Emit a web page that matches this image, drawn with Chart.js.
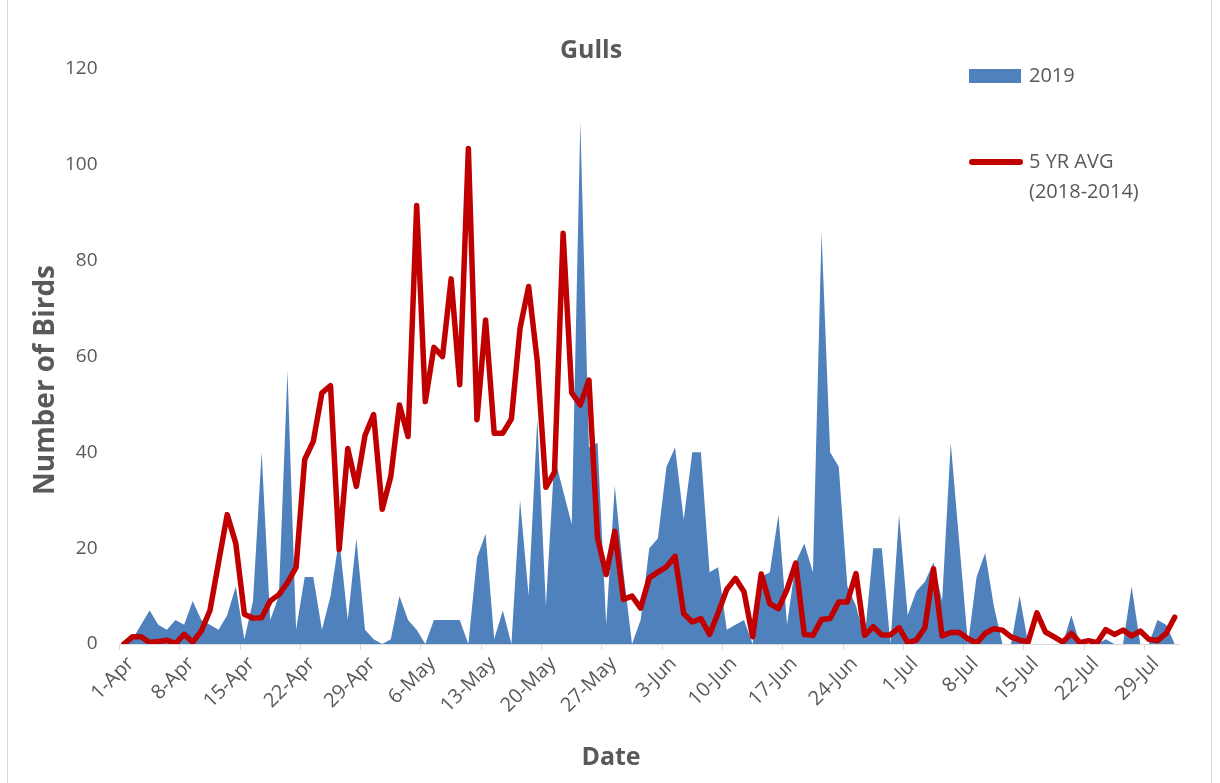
<!DOCTYPE html>
<html lang="en">
<head>
<meta charset="utf-8">
<title>Gulls</title>
<script src="https://cdn.jsdelivr.net/npm/chart.js"></script>
<style>
    body {
        margin: 0;
        background: #ffffff;
        font-family: 'Open Sans', sans-serif;
    }
    .frame {
        position: relative;
        width: 1220px;
        height: 783px;
    }
    .frame:before {
        content: '';
        position: absolute;
        left: 7px;
        top: 0;
        width: 1205px;
        height: 783px;
        border-left: 1px solid #d9d9d9;
        border-right: 1px solid #d9d9d9;
        box-sizing: border-box;
    }
    #gullsChart {
        position: absolute;
        left: 0;
        top: 0;
    }
    .legend {
        position: absolute;
        left: 969px;
        top: 60px;
        color: #595959;
        font-size: 20px;
        line-height: 30px;
    }
    .legend-item {
        position: absolute;
        left: 0;
        white-space: nowrap;
    }
    .legend-swatch {
        position: absolute;
        left: 0;
    }
    .legend-text {
        position: absolute;
        left: 60px;
    }
</style>
</head>
<body>
<div class="frame">
    <canvas id="gullsChart" width="1220" height="783"></canvas>
    <div class="legend">
        <div class="legend-item" style="top:0">
            <div class="legend-swatch" style="top:9px;width:52px;height:14px;background:#4F81BD;"></div>
            <div class="legend-text" style="top:0">2019</div>
        </div>
        <div class="legend-item" style="top:86px">
            <div class="legend-swatch" style="top:13px;width:54px;height:6px;border-radius:3px;background:#C00000;"></div>
            <div class="legend-text" style="top:0">5 YR AVG<br>(2018-2014)</div>
        </div>
    </div>
</div>

<script>
    // daily counts, 1-Apr to 1-Aug
    const startDay = new Date(2019, 3, 1);
    const dayCount = 123;

    const counts2019 = [
        0, 1, 4, 7, 4, 3, 5, 4, 9, 5, 4, 3, 6, 12, 1, 9, 40, 5, 10, 57,
        3, 14, 14, 3, 10, 22, 5, 22, 3, 1, 0, 1, 10, 5, 3, 0, 5, 5, 5, 5,
        0, 18, 23, 1, 7, 0, 30, 10, 47, 8, 39, 32, 25, 109, 41, 42, 4, 33, 15, 0,
        5, 20, 22, 37, 41, 26, 40, 40, 15, 16, 3, 4, 5, 0, 14, 15, 27, 4, 17, 21,
        15, 86, 40, 37, 12, 8, 1, 20, 20, 0, 27, 6, 11, 13, 17, 9, 42, 21, 0, 14,
        19, 8, 0, 0, 10, 0, 0, 0, 0, 0, 6, 0, 0, 0, 1, 0, 0, 12, 0, 0,
        5, 4, 0
    ];

    const avg5yr = [
        0, 1.5, 1.5, 0.3, 0.5, 0.8, 0.1, 2, 0.4, 2.7, 7, 17, 27, 21, 6.2, 5.4, 5.5, 9, 10.3, 12.8,
        16, 38.5, 42.3, 52.4, 53.9, 19.7, 40.8, 32.9, 43.5, 47.9, 28.1, 35, 49.9, 43.3, 91.5, 50.6, 61.9, 60, 76.2, 54.1,
        103.4, 46.8, 67.6, 44, 44, 47, 65.9, 74.6, 59, 32.7, 35.9, 85.7, 52.4, 49.9, 55.1, 22.1, 14.5, 23.5, 9.3, 10,
        7.5, 13.8, 15, 16.1, 18.3, 6.3, 4.6, 5.3, 2, 6.5, 11.4, 13.7, 10.9, 1.5, 14.6, 8.4, 7.4, 11.4, 16.9, 2,
        1.8, 5.1, 5.3, 8.75, 8.75, 14.7, 1.8, 3.6, 1.9, 1.9, 3.4, 0.3, 0.8, 3.4, 15.7, 1.7, 2.4, 2.4, 1.1, 0.2,
        2.2, 3.2, 2.9, 1.5, 0.8, 0.5, 6.5, 2.5, 1.5, 0.4, 2.2, 0.3, 0.7, 0.3, 3, 2, 2.9, 1.7, 2.7, 1,
        0.7, 2.2, 5.6
    ];

    const yTicks = [0, 20, 40, 60, 80, 100, 120];

    const monthNames = ['Jan', 'Feb', 'Mar', 'Apr', 'May', 'Jun', 'Jul', 'Aug', 'Sep', 'Oct', 'Nov', 'Dec'];
    const dates = [];
    for (let i = 0; i < dayCount; i++) {
        const d = new Date(startDay.getFullYear(), startDay.getMonth(), startDay.getDate() + i);
        dates.push(d.getDate() + '-' + monthNames[d.getMonth()]);
    }

    const textGrey = '#595959';
    const fontFamily = "'Open Sans', sans-serif";

    // chart title and axis titles
    const titlesPlugin = {
        id: 'titles',
        afterDraw(chart) {
            const c = chart.ctx;
            c.save();
            c.fillStyle = textGrey;
            c.textAlign = 'center';
            c.textBaseline = 'middle';
            c.font = 'bold 25px ' + fontFamily;
            c.fillText('Gulls', 591, 51);
            c.font = 'bold 25px ' + fontFamily;
            c.fillText('Date', 611, 758);
            c.font = 'bold 28px ' + fontFamily;
            c.translate(46, 380);
            c.rotate(-Math.PI / 2);
            c.fillText('Number of Birds', 0, 0);
            c.restore();
        }
    };

    const ctx = document.getElementById('gullsChart').getContext('2d');
    const chart = new Chart(ctx, {
        type: 'line',
        data: {
            labels: dates,
            datasets: [
                {
                    label: '5 YR AVG (2018-2014)',
                    data: avg5yr,
                    borderColor: '#C00000',
                    borderWidth: 5.5,
                    borderJoinStyle: 'round',
                    borderCapStyle: 'round',
                    pointRadius: 0,
                    fill: false,
                    tension: 0,
                    order: 0
                },
                {
                    label: '2019',
                    data: counts2019,
                    backgroundColor: '#4F81BD',
                    borderColor: 'rgba(0,0,0,0)',
                    borderWidth: 0,
                    pointRadius: 0,
                    fill: 'origin',
                    tension: 0,
                    order: 1
                }
            ]
        },
        options: {
            responsive: false,
            animation: false,
            layout: {
                padding: { left: 0, right: 41, top: 69, bottom: 0 }
            },
            plugins: {
                legend: { display: false },
                title: { display: false },
                tooltip: { enabled: false }
            },
            scales: {
                x: {
                    type: 'category',
                    offset: true,
                    afterFit(scale) { scale.height = 139; },
                    grid: {
                        offset: true,
                        drawOnChartArea: false,
                        drawTicks: true,
                        tickLength: 6,
                        color: (c) => (c.index % 7 === 0 ? '#d9d9d9' : 'rgba(0,0,0,0)')
                    },
                    border: { display: true, color: '#d9d9d9', width: 1 },
                    ticks: {
                        autoSkip: false,
                        minRotation: 45,
                        maxRotation: 45,
                        padding: 2,
                        labelOffset: 7,
                        color: textGrey,
                        font: { family: fontFamily, size: 20 },
                        callback: (val, i) => (i % 7 === 0 ? dates[i] : '')
                    }
                },
                y: {
                    min: 0,
                    max: 120,
                    afterFit(scale) { scale.width = 119.5; },
                    afterBuildTicks(scale) { scale.ticks = yTicks.map(v => ({ value: v })); },
                    grid: { display: false, drawTicks: false },
                    border: { display: false },
                    ticks: {
                        padding: 22,
                        color: textGrey,
                        font: { family: fontFamily, size: 19 }
                    }
                }
            }
        },
        plugins: [titlesPlugin]
    });
</script>
</body>
</html>
